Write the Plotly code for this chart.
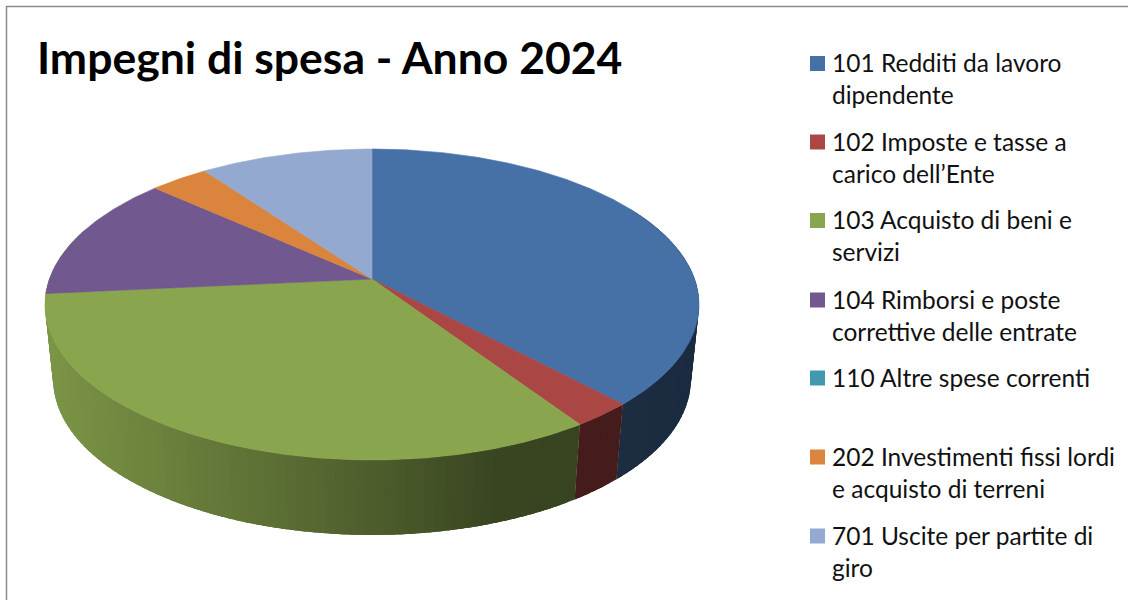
import numpy as np
import plotly.graph_objects as go

# ---- data ----
categories = ["101 Redditi da lavoro dipendente", "102 Imposte e tasse a carico dell’Ente",
              "103 Acquisto di beni e servizi", "104 Rimborsi e poste correttive delle entrate",
              "110 Altre spese correnti", "202 Investimenti fissi lordi e acquisto di terreni",
              "701 Uscite per partite di giro"]
values = [38.0, 2.6, 32.9, 13.1, 0.0, 3.4, 10.0]
colors = ["#4671A6", "#AA4643", "#89A54E", "#71588F", "#4198AF", "#DB843D", "#93A9CF"]
legend_lines = [["101 Redditi da lavoro", "dipendente"], ["102 Imposte e tasse a", "carico dell’Ente"],
                ["103 Acquisto di beni e", "servizi"], ["104 Rimborsi e poste", "correttive delle entrate"],
                ["110 Altre spese correnti"], ["202 Investimenti fissi lordi", "e acquisto di terreni"],
                ["701 Uscite per partite di", "giro"]]
title_text = "Impegni di spesa - Anno 2024"

# ---- layout constants (page pixels) ----
W, H = 1128, 600
APEX_X, APEX_Y = 372, 279
A, B, K = 322.6, 151.3, 0.164      # perspective projection of the pie disc
DEPTH, BOTTOM_SCALE = 75, 0.975    # extrusion of the pie
legend_y = [63.5, 142, 220.5, 300, 378, 457, 536]
LINE_PITCH = 32
shade_x = [50, 150, 330, 500, 620, 700]
shade_f = [0.90, 0.80, 0.62, 0.42, 0.40, 0.38]
WALL_START, WALL_END = np.radians(60), np.radians(290)


def top(theta):
    u, v = np.sin(theta), np.cos(theta)
    s = 1 / (1 + K * v)
    return APEX_X + A * u * s, APEX_Y - B * v * s


def bottom(theta):
    x, y = top(theta)
    return APEX_X + BOTTOM_SCALE * (x - APEX_X), y + DEPTH


def rgb(c, f=1.0):
    r, g, b = int(c[1:3], 16), int(c[3:5], 16), int(c[5:7], 16)
    return f"rgb({r*f:.0f},{g*f:.0f},{b*f:.0f})"


fig = go.Figure()
edges = np.radians(np.concatenate([[0], np.cumsum(values)]) / sum(values) * 360)

# side wall: overlapping shaded strips along the near rim; the third slice's wall closes the silhouette
for i, col in enumerate(colors[:3]):
    lo = max(edges[i], WALL_START)
    hi = WALL_END if i == 2 else edges[i + 1]
    n = max(2, int(np.degrees(hi - lo) / 1.5))
    ts = np.linspace(lo, hi, n + 1)
    for t0, t1 in zip(ts[:-1], ts[1:]):
        seg = np.linspace(t0, min(hi, t1 + np.radians(2.5)), 6)
        xt, yt = top(seg)
        xb, yb = bottom(seg)
        f = float(np.interp((top(t0)[0] + bottom(t0)[0]) / 2, shade_x, shade_f))
        c = rgb(col, f)
        fig.add_trace(go.Scatter(x=np.r_[xt, xb[::-1]], y=np.r_[yt, yb[::-1]], mode="lines",
                                 fill="toself", fillcolor=c, line=dict(color=c, width=0),
                                 hoverinfo="skip", showlegend=False))

# top faces
for i, col in enumerate(colors):
    if values[i] <= 0:
        continue
    th = np.linspace(edges[i], edges[i + 1], max(3, int(np.degrees(edges[i + 1] - edges[i]) * 2)))
    xt, yt = top(th)
    fig.add_trace(go.Scatter(x=np.r_[APEX_X, xt, APEX_X], y=np.r_[APEX_Y, yt, APEX_Y], mode="lines",
                             fill="toself", fillcolor=col, line=dict(color=col, width=0.6),
                             name=categories[i], text=f"{values[i]}%", hoverinfo="name+text",
                             showlegend=False))

shapes = [dict(type="rect", xref="x", yref="y", x0=6.5, y0=6.5, x1=1140, y1=620,
               line=dict(color="#8c8c8c", width=1.5), fillcolor="rgba(0,0,0,0)", layer="below")]
annotations = [dict(x=34.5, y=56, xref="x", yref="y", text=f"<b>{title_text}</b>", showarrow=False,
                    xanchor="left", yanchor="middle", font=dict(family="Lato", size=44.5, color="#000"))]
for col, lines, y in zip(colors, legend_lines, legend_y):
    shapes.append(dict(type="rect", xref="x", yref="y", x0=810, x1=825, y0=y - 7.5, y1=y + 7.5,
                       fillcolor=col, line=dict(width=0)))
    for j, line in enumerate(lines):
        annotations.append(dict(x=830, y=y - 1 + j * LINE_PITCH, xref="x", yref="y", text=line, showarrow=False,
                                xanchor="left", yanchor="middle", font=dict(family="Lato", size=24.5, color="#111")))

fig.update_layout(
    width=W, height=H, margin=dict(l=0, r=0, t=0, b=0), paper_bgcolor="white", plot_bgcolor="white",
    xaxis=dict(range=[0, W], visible=False, fixedrange=True),
    yaxis=dict(range=[H, 0], visible=False, fixedrange=True),
    shapes=shapes, annotations=annotations, showlegend=False,
)
fig.write_html("out.html", config=dict(displayModeBar=False),
               post_script="document.body.style.margin='0';document.documentElement.style.overflow='hidden';")
